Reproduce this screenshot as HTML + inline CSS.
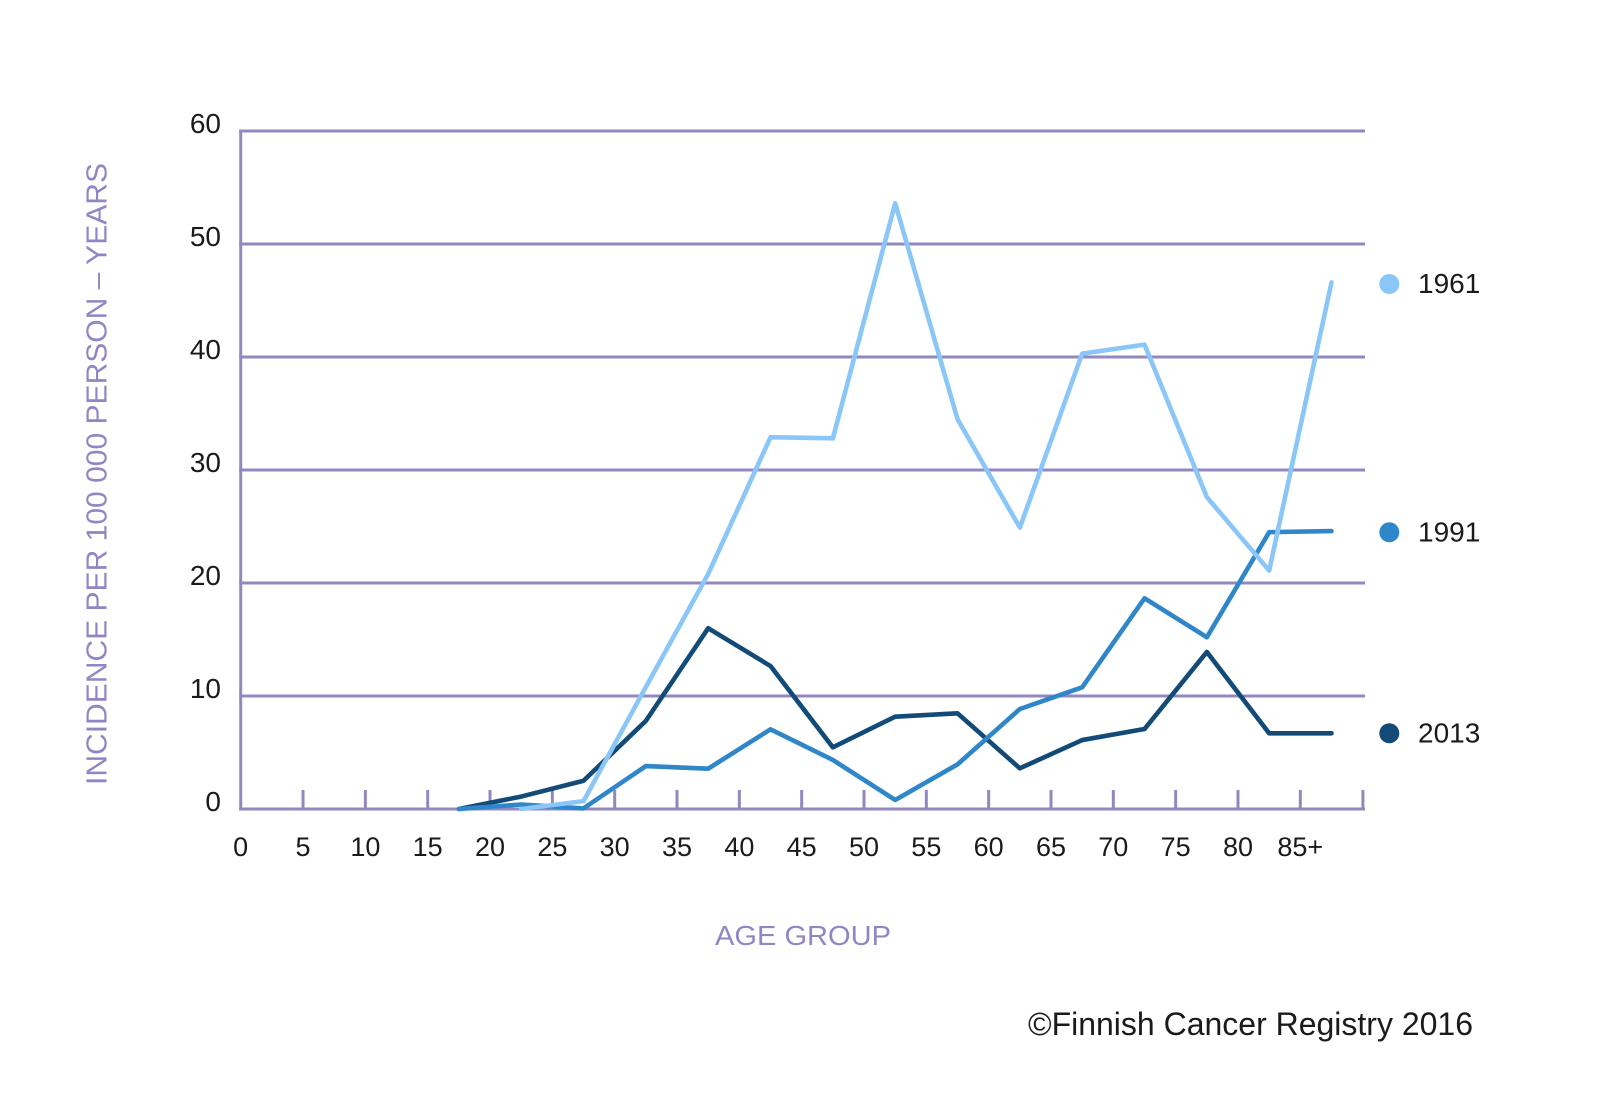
<!DOCTYPE html>
<html>
<head>
<meta charset="utf-8">
<style>
  html, body { margin: 0; padding: 0; background: #ffffff; }
  svg { display: block; }
  text { font-family: "Liberation Sans", "DejaVu Sans", sans-serif; }
</style>
</head>
<body>
<svg width="1600" height="1100" viewBox="0 0 1600 1100" xmlns="http://www.w3.org/2000/svg">
  <rect width="1600" height="1100" fill="#ffffff"/>

  <!-- horizontal gridlines -->
  <g stroke="#9387C0" stroke-width="3" fill="none">
    <line x1="239.2" y1="131" x2="1365" y2="131"/>
    <line x1="239.2" y1="244" x2="1365" y2="244"/>
    <line x1="239.2" y1="357" x2="1365" y2="357"/>
    <line x1="239.2" y1="470" x2="1365" y2="470"/>
    <line x1="239.2" y1="583" x2="1365" y2="583"/>
    <line x1="239.2" y1="696" x2="1365" y2="696"/>
    <line x1="239.2" y1="809" x2="1365" y2="809"/>
    <!-- y axis -->
    <line x1="240.7" y1="129.5" x2="240.7" y2="810.5"/>
    <!-- ticks -->
    <line x1="303.03" y1="790" x2="303.03" y2="809"/>
    <line x1="365.36" y1="790" x2="365.36" y2="809"/>
    <line x1="427.69" y1="790" x2="427.69" y2="809"/>
    <line x1="490.02" y1="790" x2="490.02" y2="809"/>
    <line x1="552.35" y1="790" x2="552.35" y2="809"/>
    <line x1="614.68" y1="790" x2="614.68" y2="809"/>
    <line x1="677.01" y1="790" x2="677.01" y2="809"/>
    <line x1="739.34" y1="790" x2="739.34" y2="809"/>
    <line x1="801.67" y1="790" x2="801.67" y2="809"/>
    <line x1="864.0" y1="790" x2="864.0" y2="809"/>
    <line x1="926.33" y1="790" x2="926.33" y2="809"/>
    <line x1="988.66" y1="790" x2="988.66" y2="809"/>
    <line x1="1050.99" y1="790" x2="1050.99" y2="809"/>
    <line x1="1113.32" y1="790" x2="1113.32" y2="809"/>
    <line x1="1175.65" y1="790" x2="1175.65" y2="809"/>
    <line x1="1237.98" y1="790" x2="1237.98" y2="809"/>
    <line x1="1300.31" y1="790" x2="1300.31" y2="809"/>
    <line x1="1362.9" y1="790" x2="1362.9" y2="810.5"/>
  </g>

  <!-- y tick labels -->
  <g font-size="28" fill="#1a1a1a" text-anchor="end">
    <text x="221" y="133">60</text>
    <text x="221" y="246">50</text>
    <text x="221" y="359">40</text>
    <text x="221" y="472">30</text>
    <text x="221" y="585">20</text>
    <text x="221" y="698">10</text>
    <text x="221" y="811">0</text>
  </g>

  <!-- x tick labels -->
  <g font-size="27" fill="#1a1a1a" text-anchor="middle">
    <text x="240.7" y="856">0</text>
    <text x="303.03" y="856">5</text>
    <text x="365.36" y="856">10</text>
    <text x="427.69" y="856">15</text>
    <text x="490.02" y="856">20</text>
    <text x="552.35" y="856">25</text>
    <text x="614.68" y="856">30</text>
    <text x="677.01" y="856">35</text>
    <text x="739.34" y="856">40</text>
    <text x="801.67" y="856">45</text>
    <text x="864.0" y="856">50</text>
    <text x="926.33" y="856">55</text>
    <text x="988.66" y="856">60</text>
    <text x="1050.99" y="856">65</text>
    <text x="1113.32" y="856">70</text>
    <text x="1175.65" y="856">75</text>
    <text x="1237.98" y="856">80</text>
    <text x="1300.31" y="856">85+</text>
  </g>

  <!-- series -->
  <g fill="none" stroke-width="4.6" stroke-linejoin="round" stroke-linecap="round">
    <polyline stroke="#124B78" points="458.86,809 521.19,796.57 583.52,780.75 645.86,720.86 708.19,628.2 770.52,666.06 832.85,747.3 895.18,716.68 957.52,713.29 1019.85,768.32 1082.18,740.07 1144.51,729.0 1206.85,651.93 1269.18,733.29 1331.51,733.29"/>
    <polyline stroke="#2F87C9" points="458.86,809 521.19,804.5 583.52,808.4 645.86,766.06 708.19,768.66 770.52,729.34 832.85,759.96 895.18,799.96 957.52,764.37 1019.85,709.0 1082.18,687.3 1144.51,598.26 1206.85,637.24 1269.18,532.15 1331.51,531.02"/>
    <polyline stroke="#8AC6F7" points="521.19,809 583.52,801.1 645.86,686.96 708.19,573.96 770.52,437.23 832.85,438.36 895.18,203.32 957.52,419.15 1019.85,527.63 1082.18,353.61 1144.51,344.57 1206.85,497.12 1269.18,570.57 1331.51,282.42"/>
  </g>

  <!-- legend -->
  <circle cx="1389.3" cy="284" r="10" fill="#8AC6F7"/>
  <circle cx="1389.3" cy="532.3" r="10" fill="#2F87C9"/>
  <circle cx="1389.3" cy="733.3" r="10" fill="#124B78"/>
  <g font-size="28" fill="#1a1a1a">
    <text x="1418" y="293">1961</text>
    <text x="1418" y="541.5">1991</text>
    <text x="1418" y="742.5">2013</text>
  </g>

  <!-- axis titles -->
  <text transform="translate(106.5,474) rotate(-90)" font-size="29" fill="#9186C5" text-anchor="middle" textLength="622" lengthAdjust="spacingAndGlyphs">INCIDENCE PER 100 000 PERSON – YEARS</text>
  <text x="715" y="945" font-size="28" fill="#9186C5" textLength="176" lengthAdjust="spacingAndGlyphs">AGE GROUP</text>

  <!-- copyright -->
  <text x="1028" y="1035" font-size="32" fill="#1a1a1a" textLength="445" lengthAdjust="spacingAndGlyphs">©Finnish Cancer Registry 2016</text>
</svg>
</body>
</html>
